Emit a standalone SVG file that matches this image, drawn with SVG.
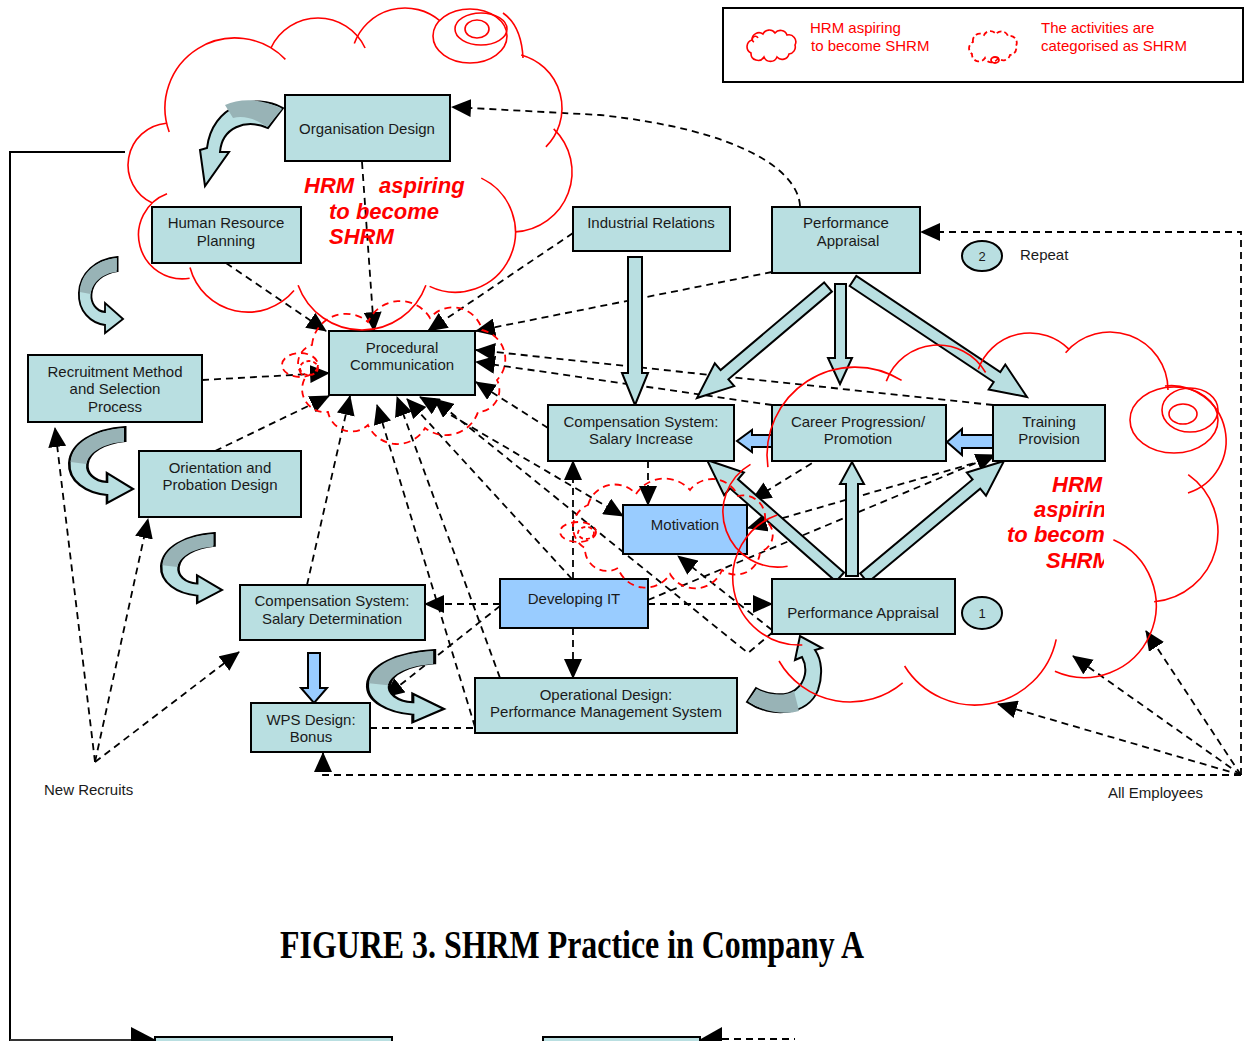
<svg xmlns="http://www.w3.org/2000/svg" width="1246" height="1041" viewBox="0 0 1246 1041">
<defs>
<style>
.box{fill:#b9dfe1;stroke:#000;stroke-width:2}
.blue{fill:#99ccff;stroke:#000;stroke-width:2}
.lbl{font-family:"Liberation Sans",Arial,sans-serif;font-size:15px;fill:#1a1a1a;text-anchor:middle}
.note{font-family:"Liberation Sans",Arial,sans-serif;font-size:15px;fill:#1a1a1a}
.dash{fill:none;stroke:#000;stroke-width:1.8;stroke-dasharray:7 5}
.blk{fill:#b9dfe1;stroke:#000;stroke-width:2}
.blkb{fill:#99ccff;stroke:#000;stroke-width:2}
.cv{fill:#b9dfe1;stroke:#000;stroke-width:2}
.cvd{fill:#98b3b6;stroke:none}
.cloud{fill:none;stroke:#f00;stroke-width:1.6}
.dcloud{fill:none;stroke:#f00;stroke-width:1.8;stroke-dasharray:7 5}
.red{font-family:"Liberation Sans",Arial,sans-serif;font-weight:bold;font-style:italic;font-size:22px;fill:#f00}
.leg{font-family:"Liberation Sans",Arial,sans-serif;font-size:15px;fill:#f00}
</style>
<marker id="ah" viewBox="0 0 20 18" refX="19" refY="9" markerWidth="20" markerHeight="18" markerUnits="userSpaceOnUse" orient="auto-start-reverse">
<path d="M0,0 L20,9 L0,18 Z" fill="#000"/>
</marker>
<clipPath id="rclip"><rect x="990" y="470" width="114" height="110"/></clipPath>
</defs>
<rect width="1246" height="1041" fill="#fff"/>

<!-- frame line on the left and bottom edge -->
<g id="frame">
<path d="M125,152 L10,152 L10,1041" fill="none" stroke="#000" stroke-width="2"/>
<path d="M10,1040 L135,1040" fill="none" stroke="#333" stroke-width="2"/>
<polygon points="131,1027 156,1040 131,1053" fill="#000"/>
<rect x="155" y="1037" width="237" height="12" fill="#b9dfe1" stroke="#000" stroke-width="2"/>
<rect x="543" y="1037" width="157" height="12" fill="#b9dfe1" stroke="#000" stroke-width="2"/>
<polygon points="722,1027 699,1040 722,1053" fill="#000"/>
<path d="M722,1039 L795,1039" class="dash"/>
</g>

<!-- legend -->
<g id="legend">
<rect x="723" y="8" width="520" height="74" fill="#fff" stroke="#000" stroke-width="2"/>
<path class="cloud" d="M752,40 A7,7 0 0 1 763,34 A7,7 0 0 1 775,33 A7,7 0 0 1 787,35 A7,7 0 0 1 795,45 A7,7 0 0 1 789,54 A7,7 0 0 1 777,57 A7,7 0 0 1 764,57 A7,7 0 0 1 751,53 A7,7 0 0 1 752,40 Z"/>
<path class="cloud" d="M754,42 a3,3 0 1 1 4,-4"/>
<text class="leg" x="810" y="33">HRM  aspiring</text>
<text class="leg" x="811" y="51">to become SHRM</text>
<path fill="none" stroke="#f00" stroke-width="1.8" stroke-dasharray="5 3" d="M973,42 A7,7 0 0 1 984,35 A7,7 0 0 1 996,34 A7,7 0 0 1 1008,36 A7,7 0 0 1 1016,46 A7,7 0 0 1 1010,55 A7,7 0 0 1 998,58 A7,7 0 0 1 985,58 A7,7 0 0 1 972,54 A7,7 0 0 1 973,42 Z"/>
<ellipse cx="995" cy="60" rx="4" ry="3" fill="none" stroke="#f00" stroke-width="1.8"/>
<text class="leg" x="1041" y="33">The activities are</text>
<text class="leg" x="1041" y="51">categorised as SHRM</text>
</g>

<!-- dashed connectors -->
<g id="connectors">
<path class="dash" d="M800,206 C798,170 740,130 600,115 L452,107" marker-end="url(#ah)"/>
<path class="dash" d="M362,162 L374,331" marker-end="url(#ah)"/>
<path class="dash" d="M226,263 L326,331" marker-end="url(#ah)"/>
<path class="dash" d="M573,233 L428,331" marker-end="url(#ah)"/>
<path class="dash" d="M772,272 L476,331" marker-end="url(#ah)"/>
<path class="dash" d="M993,405 L476,350" marker-end="url(#ah)"/>
<path class="dash" d="M772,405 L476,362" marker-end="url(#ah)"/>
<path class="dash" d="M548,428 L476,382" marker-end="url(#ah)"/>
<path class="dash" d="M202,380 L329,373" marker-end="url(#ah)"/>
<path class="dash" d="M215,451 L329,396" marker-end="url(#ah)"/>
<path class="dash" d="M307,585 L350,396" marker-end="url(#ah)"/>
<path class="dash" d="M475,727 L377,405" marker-end="url(#ah)"/>
<path class="dash" d="M500,678 L397,397" marker-end="url(#ah)"/>
<path class="dash" d="M572,579 L407,399" marker-end="url(#ah)"/>
<path class="dash" d="M420,397 L623,516" marker-start="url(#ah)" marker-end="url(#ah)"/>
<path class="dash" d="M773,632 L748,653 L434,399" marker-end="url(#ah)"/>
<path class="dash" d="M648,461 L648,505" marker-end="url(#ah)"/>
<path class="dash" d="M573,579 L573,461" marker-end="url(#ah)"/>
<path class="dash" d="M573,628 L573,678" marker-end="url(#ah)"/>
<path class="dash" d="M500,604 L425,604" marker-end="url(#ah)"/>
<path class="dash" d="M648,604 L772,604" marker-end="url(#ah)"/>
<path class="dash" d="M500,606 L385,697" marker-end="url(#ah)"/>
<path class="dash" d="M648,600 L995,455" marker-end="url(#ah)"/>
<path class="dash" d="M985,460 L748,528" marker-end="url(#ah)"/>
<path class="dash" d="M822,457 L752,500" marker-end="url(#ah)"/>
<path class="dash" d="M772,630 L678,556" marker-end="url(#ah)"/>
<path class="dash" d="M95,762 L55,428" marker-end="url(#ah)"/>
<path class="dash" d="M95,762 L148,519" marker-end="url(#ah)"/>
<path class="dash" d="M95,762 L239,652" marker-end="url(#ah)"/>
<path class="dash" d="M1241,775 L998,704" marker-end="url(#ah)"/>
<path class="dash" d="M1241,775 L1073,656" marker-end="url(#ah)"/>
<path class="dash" d="M1241,775 L1146,631" marker-end="url(#ah)"/>
<path class="dash" d="M1241,775 L323,775 L323,753" marker-end="url(#ah)"/>
<path class="dash" d="M1241,775 L1241,232 L921,232" marker-end="url(#ah)"/>
<path class="dash" d="M370,728 L475,728"/>
</g>

<!-- block arrows -->
<g id="block-arrows">
<polygon class="blk" points="628,257 642,257 642,373 648,373 635,405 622,373 628,373"/>
<polygon class="blk" points="835,284 846,284 846,358 852,358 840,384 828,358 835,358"/>
<polygon class="blk" points="824.1,282.4 720.6,370.1 714.8,363.3 697,398 734.2,386.1 728.4,379.3 831.9,291.6"/>
<polygon class="blk" points="849.7,286 993.7,382 988.7,389.5 1027,397 1005.3,364.5 1000.3,372 856.3,276"/>
<polygon class="blk" points="844,572.5 738,479.3 743.9,472.5 707,460 724.1,495.1 730,488.3 836,581.5"/>
<polygon class="blk" points="867.8,582.6 980.2,488.7 986,495.6 1004,461 966.8,472.6 972.6,479.5 860.2,573.4"/>
<polygon class="blk" points="846,576 846,484 840,484 852,462 864,484 858,484 858,576"/>
<polygon class="blkb" points="993,435 962,435 962,429 947,442 962,455 962,448 993,448"/>
<polygon class="blkb" points="772,435 752,435 752,430 737,441 752,452 752,447 772,447"/>
<polygon class="blkb" points="308,653 320,653 320,688 327,688 314,703 301,688 308,688"/>
</g>

<!-- curved arrows -->
<g id="curved-arrows">
<g transform="translate(200,96)">
<path class="cv" d="M83,12 C55,-4 12,9 7,52 L0,54 L5,90 L29,56 L20,56 C22,32 45,22 68,32 Z"/>
<path class="cvd" d="M82,13 C62,2 40,2 25,9 L33,22 C45,19 58,24 67,31 Z"/>
</g>
<g transform="translate(78,257) scale(0.9,1)">
<path class="cv" d="M44,0 C20,2 2,16 1,36 C0,54 14,66 30,68 L30,76 L50,62 L30,46 L30,55 C20,54 14,46 15,37 C16,25 28,16 44,14 Z"/>
<path class="cvd" d="M43,1 C20,3 3,16 2,35 L14,37 C16,25 28,16 43,15 Z"/>
</g>
<g transform="translate(68,427) scale(1.3,1)">
<path class="cv" d="M44,0 C20,2 2,16 1,36 C0,54 14,66 30,68 L30,76 L50,62 L30,46 L30,55 C20,54 14,46 15,37 C16,25 28,16 44,14 Z"/>
<path class="cvd" d="M43,1 C20,3 3,16 2,35 L14,37 C16,25 28,16 43,15 Z"/>
</g>
<g transform="translate(160,533) scale(1.24,0.92)">
<path class="cv" d="M44,0 C20,2 2,16 1,36 C0,54 14,66 30,68 L30,76 L50,62 L30,46 L30,55 C20,54 14,46 15,37 C16,25 28,16 44,14 Z"/>
<path class="cvd" d="M43,1 C20,3 3,16 2,35 L14,37 C16,25 28,16 43,15 Z"/>
</g>
<g transform="translate(366,650) scale(1.56,0.95)">
<path class="cv" d="M44,0 C20,2 2,16 1,36 C0,54 14,66 30,68 L30,76 L50,62 L30,46 L30,55 C20,54 14,46 15,37 C16,25 28,16 44,14 Z"/>
<path class="cvd" d="M43,1 C20,3 3,16 2,35 L14,37 C16,25 28,16 43,15 Z"/>
</g>
<path class="cv" d="M747,702 C770,718 808,716 818,690 C823,675 822,660 815,650 L822,648 L800,636 L795,660 L802,657 C808,668 806,682 795,690 C785,697 768,695 756,688 Z"/>
<path class="cvd" d="M748,701 C765,713 785,715 799,711 L794,691 C784,697 768,695 757,689 Z"/>
</g>

<!-- nodes -->
<g id="n-org"><rect class="box" x="285" y="95" width="165" height="66"/><text class="lbl" x="367" y="134">Organisation Design</text></g>
<g id="n-hrp"><rect class="box" x="152" y="207" width="149" height="56"/><text class="lbl" x="226" y="228">Human Resource</text><text class="lbl" x="226" y="246">Planning</text></g>
<g id="n-proc"><rect class="box" x="329" y="331" width="146" height="64"/><text class="lbl" x="402" y="353">Procedural</text><text class="lbl" x="402" y="370">Communication</text></g>
<g id="n-ir"><rect class="box" x="573" y="207" width="157" height="44"/><text class="lbl" x="651" y="228">Industrial Relations</text></g>
<g id="n-pa-top"><rect class="box" x="772" y="207" width="148" height="66"/><text class="lbl" x="846" y="228">Performance</text><text class="lbl" x="848" y="246">Appraisal</text></g>
<g id="n-recruit"><rect class="box" x="28" y="355" width="174" height="67"/><text class="lbl" x="115" y="377">Recruitment Method</text><text class="lbl" x="115" y="394">and Selection</text><text class="lbl" x="115" y="412">Process</text></g>
<g id="n-orient"><rect class="box" x="139" y="451" width="162" height="66"/><text class="lbl" x="220" y="473">Orientation and</text><text class="lbl" x="220" y="490">Probation Design</text></g>
<g id="n-comp-inc"><rect class="box" x="548" y="405" width="186" height="56"/><text class="lbl" x="641" y="427">Compensation System:</text><text class="lbl" x="641" y="444">Salary Increase</text></g>
<g id="n-career"><rect class="box" x="772" y="405" width="174" height="56"/><text class="lbl" x="858" y="427">Career Progression/</text><text class="lbl" x="858" y="444">Promotion</text></g>
<g id="n-training"><rect class="box" x="993" y="405" width="112" height="56"/><text class="lbl" x="1049" y="427">Training</text><text class="lbl" x="1049" y="444">Provision</text></g>
<g id="n-motivation"><rect class="blue" x="623" y="505" width="124" height="49"/><text class="lbl" x="685" y="530">Motivation</text></g>
<g id="n-dev-it"><rect class="blue" x="500" y="579" width="148" height="49"/><text class="lbl" x="574" y="604">Developing IT</text></g>
<g id="n-comp-det"><rect class="box" x="240" y="585" width="185" height="55"/><text class="lbl" x="332" y="606">Compensation System:</text><text class="lbl" x="332" y="624">Salary Determination</text></g>
<g id="n-pa-bot"><rect class="box" x="772" y="579" width="183" height="55"/><text class="lbl" x="863" y="618">Performance Appraisal</text></g>
<g id="n-wps"><rect class="box" x="251" y="703" width="119" height="49"/><text class="lbl" x="311" y="725">WPS Design:</text><text class="lbl" x="311" y="742">Bonus</text></g>
<g id="n-op"><rect class="box" x="475" y="678" width="262" height="55"/><text class="lbl" x="606" y="700">Operational Design:</text><text class="lbl" x="606" y="717">Performance Management System</text></g>
<g id="n-one"><ellipse cx="982" cy="613" rx="20" ry="16" fill="#b9dfe1" stroke="#000" stroke-width="2"/><text class="lbl" x="982" y="618" style="font-size:13px">1</text></g>
<g id="n-two"><ellipse cx="982" cy="256" rx="20" ry="15" fill="#b9dfe1" stroke="#000" stroke-width="2"/><text class="lbl" x="982" y="261" style="font-size:13px">2</text></g>
<text class="note" x="1020" y="260">Repeat</text>
<text class="note" x="44" y="795">New Recruits</text>
<text class="note" x="1108" y="798">All Employees</text>

<!-- solid red cloud, upper left -->
<g id="cloud-top">
<path class="cloud" d="M152.3,203.1 A42,42 0 0 1 166.3,123.2"/>
<path class="cloud" d="M169.2,131.9 A70,70 0 0 1 285.4,59.4"/>
<path class="cloud" d="M270.9,48 A52,52 0 0 1 365.1,48"/>
<path class="cloud" d="M354.3,43.5 A54,54 0 0 1 439.7,20.6"/>
<ellipse class="cloud" cx="470" cy="36" rx="37" ry="27"/>
<ellipse class="cloud" cx="481" cy="29" rx="26" ry="16"/>
<ellipse class="cloud" cx="477" cy="29" rx="12" ry="9"/>
<path class="cloud" d="M503,13 C516,22 522,38 523,58"/>
<path class="cloud" d="M521.2,54.9 A55,55 0 0 1 545.9,146.9"/>
<path class="cloud" d="M553.7,128.8 A60,60 0 0 1 515.1,231.9"/>
<path class="cloud" d="M481.3,178.1 A60,60 0 0 1 429.6,286.4"/>
<path class="cloud" d="M425.9,285.3 A68,68 0 0 1 298.1,285.3"/>
<path class="cloud" d="M294,290.6 A60,60 0 0 1 190,267.5"/>
<path class="cloud" d="M189.6,278.3 A44,44 0 0 1 167,193.7"/>
</g>

<!-- solid red cloud, right -->
<g id="cloud-right">
<path class="cloud" d="M767.9,467.2 A88,88 0 0 1 901.6,380.4"/>
<path class="cloud" d="M886.3,381.2 A55,55 0 0 1 985.6,372.5"/>
<path class="cloud" d="M978.3,369.2 A55,55 0 0 1 1068.9,349.1"/>
<path class="cloud" d="M1065.6,352.7 A58,58 0 0 1 1168,390"/>
<ellipse class="cloud" cx="1174" cy="420" rx="44" ry="33"/>
<ellipse class="cloud" cx="1190" cy="410" rx="28" ry="22"/>
<ellipse class="cloud" cx="1183" cy="414" rx="14" ry="10"/>
<path class="cloud" d="M1165,386 A55,55 0 0 1 1188,493"/>
<path class="cloud" d="M1188.2,474.7 A70,70 0 0 1 1154.1,601.7"/>
<path class="cloud" d="M1113.4,539.7 A72,72 0 0 1 1054.9,671.3"/>
<path class="cloud" d="M1056.2,639.3 A83,83 0 0 1 904.6,666"/>
<path class="cloud" d="M902.7,682.8 A82,82 0 0 1 779,661"/>
<path class="cloud" d="M802.3,645 A67,67 0 0 1 777.1,515"/>
<path class="cloud" d="M787.6,566.2 A55,55 0 0 1 750.5,464.4"/>
</g>

<!-- dashed red clouds marking SHRM activities -->
<g id="cloud-proc">
<path class="dcloud" d="M312,345 A34,34 0 0 1 368,322 A35,35 0 0 1 430,318 A30,30 0 0 1 482,330 A30,30 0 0 1 497,380 A22,22 0 0 1 478,412 A34,34 0 0 1 425,428 A32,32 0 0 1 368,425 A24,24 0 0 1 328,412 A23,23 0 0 1 305,378 A19,19 0 0 1 312,345 Z"/>
<ellipse class="dcloud" cx="300" cy="365" rx="18" ry="12"/>
<ellipse class="dcloud" cx="309" cy="368" rx="9" ry="7" style="stroke-dasharray:4 3"/>
</g>
<g id="cloud-motivation">
<path class="dcloud" d="M588,505 A28,28 0 0 1 636,494 A34,34 0 0 1 690,490 A28,28 0 0 1 738,496 A22,22 0 0 1 765,520 A18,18 0 0 1 760,552 A24,24 0 0 1 722,570 A29,29 0 0 1 670,574 A29,29 0 0 1 618,568 A22,22 0 0 1 585,548 A24,24 0 0 1 588,505 Z"/>
<ellipse class="dcloud" cx="578" cy="532" rx="18" ry="10"/>
<ellipse class="dcloud" cx="586" cy="533" rx="8" ry="6" style="stroke-dasharray:4 3"/>
</g>

<!-- cloud captions -->
<text class="red" x="304" y="193">HRM</text>
<text class="red" x="379" y="193">aspiring</text>
<text class="red" x="329" y="219">to become</text>
<text class="red" x="329" y="244">SHRM</text>
<g clip-path="url(#rclip)">
<text class="red" x="1052" y="492">HRM</text>
<text class="red" x="1034" y="517">aspirin</text>
<text class="red" x="1007" y="542">to becom</text>
<text class="red" x="1046" y="568">SHRM</text>
</g>

<text x="280" y="958" textLength="584" lengthAdjust="spacingAndGlyphs" style="font-family:'Liberation Serif','Times New Roman',serif;font-weight:bold;font-size:41px;fill:#000">FIGURE 3. SHRM Practice in Company A</text>
</svg>
